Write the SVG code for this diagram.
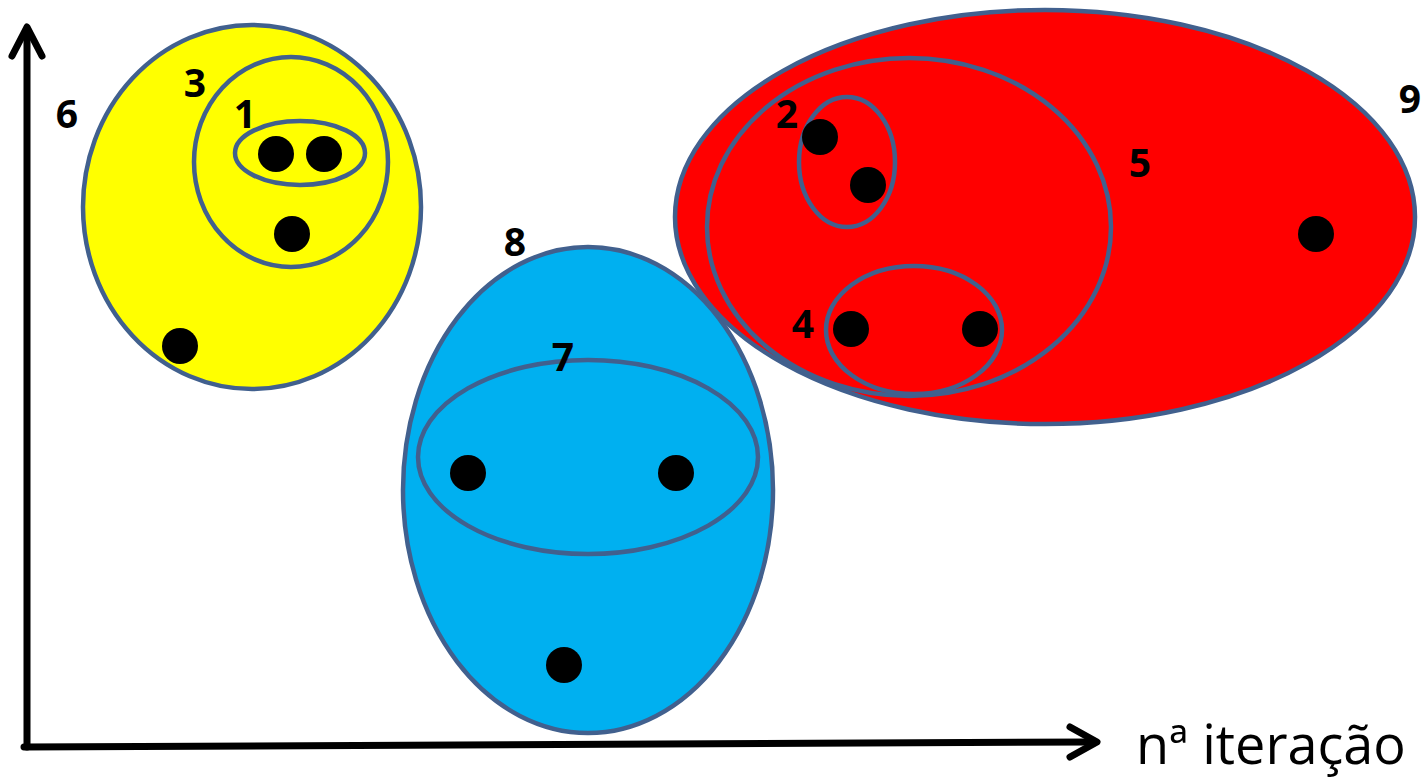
<svg xmlns="http://www.w3.org/2000/svg" width="1427" height="780" viewBox="0 0 1427 780">
<style>
.ring{stroke:#41608e;stroke-width:4.5;}
.in{fill:none;}
.dot{fill:#000;}
.lbl{font-family:"Open Sans","Liberation Sans",sans-serif;font-weight:bold;font-size:39px;fill:#000;text-anchor:middle;}
.axis{stroke:#000;stroke-width:7;fill:none;stroke-linecap:round;stroke-linejoin:round;}
.cap{font-family:"Open Sans","Liberation Sans",sans-serif;font-size:54px;fill:#000;}
</style>
<rect width="1427" height="780" fill="#fff"/>
<g id="connectors">
<path class="axis" d="M27,747 L27,30" stroke-linecap="butt"/>
<path class="axis" d="M12,56 L27,27 L42,56"/>
<path class="axis" d="M24,747 L1094,742" stroke-linecap="butt"/>
<path class="axis" d="M1070,727 L1097,742 L1070,757"/>
</g>
<g id="cluster6">
<ellipse class="ring" cx="252" cy="207" rx="169" ry="182" fill="#ffff00"/>
<text class="lbl" x="67" y="128">6</text>
</g>
<g id="cluster3">
<ellipse class="ring in" cx="291" cy="162" rx="97" ry="105"/>
<text class="lbl" x="195" y="97">3</text>
</g>
<g id="cluster1">
<ellipse class="ring in" cx="300" cy="153" rx="65" ry="32"/>
<text class="lbl" x="245" y="128">1</text>
</g>
<g id="points-yellow">
<circle class="dot" cx="276" cy="154" r="18"/>
<circle class="dot" cx="324" cy="154" r="18"/>
<circle class="dot" cx="292" cy="234" r="18"/>
<circle class="dot" cx="180" cy="346" r="18"/>
</g>
<g id="cluster8">
<ellipse class="ring" cx="588" cy="490" rx="185" ry="243" fill="#00b0f0"/>
<text class="lbl" x="515" y="256">8</text>
</g>
<g id="cluster7">
<ellipse class="ring in" cx="588" cy="457" rx="170" ry="97"/>
<text class="lbl" x="563" y="371">7</text>
</g>
<g id="points-blue">
<circle class="dot" cx="468" cy="473" r="18"/>
<circle class="dot" cx="676" cy="473" r="18"/>
<circle class="dot" cx="564" cy="665" r="18"/>
</g>
<g id="cluster9">
<ellipse class="ring" cx="1045" cy="217" rx="370" ry="207" fill="#ff0000"/>
<text class="lbl" x="1410" y="113">9</text>
</g>
<g id="cluster5">
<ellipse class="ring in" cx="909" cy="227" rx="202" ry="169"/>
<text class="lbl" x="1140" y="177">5</text>
</g>
<g id="cluster2">
<ellipse class="ring in" cx="847" cy="162" rx="48" ry="65"/>
<text class="lbl" x="787" y="128">2</text>
</g>
<g id="cluster4">
<ellipse class="ring in" cx="914" cy="330" rx="88" ry="64"/>
<text class="lbl" x="803" y="338">4</text>
</g>
<g id="points-red">
<circle class="dot" cx="820" cy="137" r="18"/>
<circle class="dot" cx="868" cy="185" r="18"/>
<circle class="dot" cx="851" cy="329" r="18"/>
<circle class="dot" cx="980" cy="329" r="18"/>
<circle class="dot" cx="1316" cy="234" r="18"/>
</g>
<text class="cap" x="1136" y="764">nª iteração</text>
</svg>
